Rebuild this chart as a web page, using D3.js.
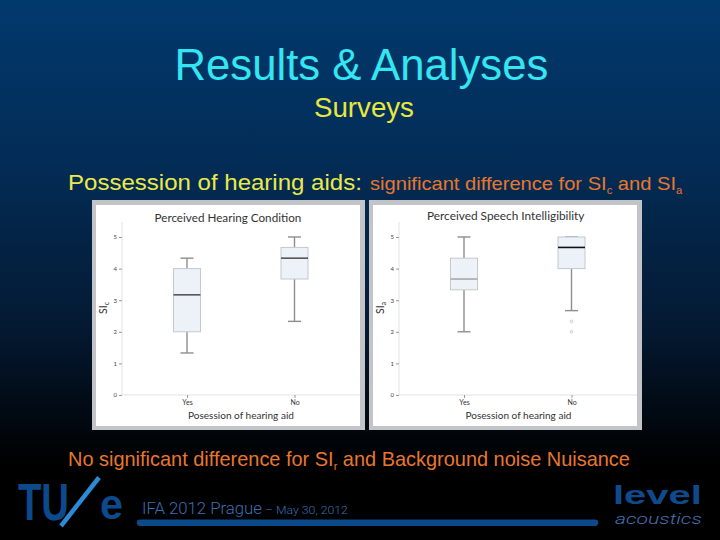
<!DOCTYPE html>
<html><head><meta charset="utf-8">
<script src="https://cdn.jsdelivr.net/npm/d3@7"></script>
<style>html,body{margin:0;padding:0;background:#000;}svg{display:block;}</style>
</head><body>
<script>
// ---------- data ----------
const groups = ["Yes", "No"];
const yTicks = [0, 1, 2, 3, 4, 5];
// box stats: [min, q1, median, q3, max]
const sicYes = [1.33, 2.00, 3.17, 4.00, 4.33];
const sicNo  = [2.33, 3.67, 4.33, 4.67, 5.00];
const siaYes = [2.00, 3.33, 3.67, 4.33, 5.00];
const siaNo  = [2.67, 4.00, 4.67, 5.00, 5.00];
const sicOutliers = [[], []];
const siaOutliers = [[], [2.33, 2.00]];
const chartTitles = ["Perceived Hearing Condition", "Perceived Speech Intelligibility"];
const ySubs = ["c", "a"];
const xTitle = "Posession of hearing aid";

const W = 720, H = 540;
const svg = d3.select("body").append("svg").attr("width", W).attr("height", H);
const defs = svg.append("defs");
const bg = defs.append("linearGradient").attr("id", "bg").attr("x1", 0).attr("y1", 0).attr("x2", 0).attr("y2", 1);
[[0, "#01396d"], [0.3, "#032c56"], [0.6, "#041a33"], [0.86, "#000000"], [1, "#000000"]]
  .forEach(([o, c]) => bg.append("stop").attr("offset", o).attr("stop-color", c));
svg.append("rect").attr("width", W).attr("height", H).attr("fill", "url(#bg)");

// fit helper: scale text horizontally to occupy [x, x+w]
function fit(sel, x, y, w) {
  const bw = sel.node().getBBox().width;
  sel.attr("x", 0).attr("y", 0).attr("text-anchor", "start")
     .attr("transform", `translate(${x},${y}) scale(${w / bw},1)`);
  return sel;
}
const SANS = "'Liberation Sans', Arial, sans-serif";

// ---------- headings ----------
fit(svg.append("text").text("Results & Analyses").attr("font-family", SANS).attr("font-size", 44).attr("fill", "#33e6f2"), 174.5, 80, 374);
fit(svg.append("text").text("Surveys").attr("font-family", SANS).attr("font-size", 27).attr("fill", "#e8e83c"), 314, 117, 100);
fit(svg.append("text").text("Possession of hearing aids:").attr("font-family", SANS).attr("font-size", 22).attr("fill", "#eaea4a"), 68, 190, 294);

const l1 = svg.append("text").attr("font-family", SANS).attr("font-size", 18).attr("fill", "#e8772e");
l1.append("tspan").text("significant difference for SI");
l1.append("tspan").text("c").attr("font-size", 10).attr("dy", 4);
l1.append("tspan").text(" and SI").attr("dy", -4);
l1.append("tspan").text("a").attr("font-size", 10).attr("dy", 4);
fit(l1, 370, 190, 313);

const l2 = svg.append("text").attr("font-family", SANS).attr("font-size", 20).attr("fill", "#e8772e");
l2.append("tspan").text("No significant difference for SI");
l2.append("tspan").text("r").attr("font-size", 11).attr("dy", 4);
l2.append("tspan").text(" and Background noise Nuisance").attr("dy", -4);
fit(l2, 68, 466, 562);

// ---------- panels ----------
const CH = "Lato, 'Open Sans', sans-serif";
const y = d3.scaleLinear().domain([0, 5]).range([395, 237]);
const panels = [
  { ox: 0, stats: [sicYes, sicNo], outl: sicOutliers, medColor: ["#555", "#555"], titleW: 147, titleY: 222, titleC: 228, xtC: 241 },
  { ox: 277, stats: [siaYes, siaNo], outl: siaOutliers, medColor: ["#a8a8a8", "#111"], titleW: 158, titleY: 219.5, titleC: 506, xtC: 518.5 }
];

panels.forEach((p, i) => {
  const g = svg.append("g");
  // frame
  g.append("rect").attr("x", 92 + p.ox).attr("y", 200).attr("width", 273).attr("height", 230).attr("fill", "#c2c4c8");
  g.append("rect").attr("x", 96 + p.ox).attr("y", 205).attr("width", 264).attr("height", 221).attr("fill", "#ffffff");

  const axX = 122 + p.ox;
  const x = d3.scalePoint().domain(groups).range([187 + p.ox, 294.5 + p.ox]);

  // axis lines
  g.append("line").attr("x1", axX).attr("x2", axX).attr("y1", 222).attr("y2", 395).attr("stroke", "#e2e2e2");
  g.append("line").attr("x1", axX).attr("x2", 360 + p.ox).attr("y1", 395).attr("y2", 395).attr("stroke", "#e2e2e2");

  const ya = g.append("g").attr("transform", `translate(${axX},0)`)
    .call(d3.axisLeft(y).tickValues(yTicks).tickSize(3).tickSizeOuter(0).tickPadding(2).tickFormat(d3.format("d")));
  ya.select(".domain").remove();
  ya.selectAll("line").attr("stroke", "#999");
  ya.selectAll("text").attr("font-family", CH).attr("font-size", 6).attr("fill", "#444");

  const xa = g.append("g").attr("transform", `translate(0,395)`)
    .call(d3.axisBottom(x).tickSize(3).tickSizeOuter(0).tickPadding(2));
  xa.select(".domain").remove();
  xa.selectAll("line").attr("stroke", "#999");
  xa.selectAll("text").attr("font-family", CH).attr("font-size", 7).attr("fill", "#333");

  // titles
  const t = g.append("text").text(chartTitles[i]).attr("font-family", CH).attr("font-size", 11).attr("fill", "#333");
  fit(t, p.titleC - p.titleW / 2, p.titleY, p.titleW);
  const xt = g.append("text").text(xTitle).attr("font-family", CH).attr("font-size", 10).attr("fill", "#333");
  fit(xt, p.xtC - 53, 418.5, 106);
  const yl = g.append("text").attr("font-family", CH).attr("font-size", 10.5).attr("fill", "#333")
    .attr("text-anchor", "middle").attr("transform", `translate(${107 + p.ox},308) rotate(-90)`);
  yl.append("tspan").text("SI");
  yl.append("tspan").text(ySubs[i]).attr("font-size", 7).attr("dy", 2);

  // boxes
  const bw = 27, cw = 13;
  groups.forEach((grp, j) => {
    const [mn, q1, md, q3, mx] = p.stats[j];
    const cx = x(grp);
    const wk = g.append("g").attr("stroke", "#8e8e8e").attr("stroke-width", 1.4);
    wk.append("line").attr("x1", cx).attr("x2", cx).attr("y1", y(mx)).attr("y2", y(q3));
    wk.append("line").attr("x1", cx).attr("x2", cx).attr("y1", y(q1)).attr("y2", y(mn));
    wk.append("line").attr("x1", cx - cw / 2).attr("x2", cx + cw / 2).attr("y1", y(mx)).attr("y2", y(mx));
    wk.append("line").attr("x1", cx - cw / 2).attr("x2", cx + cw / 2).attr("y1", y(mn)).attr("y2", y(mn));
    g.append("rect").attr("x", cx - bw / 2).attr("y", y(q3)).attr("width", bw).attr("height", y(q1) - y(q3))
      .attr("fill", "#edf1f8").attr("stroke", "#c4c8cf").attr("stroke-width", 1);
    g.append("line").attr("x1", cx - bw / 2).attr("x2", cx + bw / 2).attr("y1", y(md)).attr("y2", y(md))
      .attr("stroke", p.medColor[j]).attr("stroke-width", 1.6);
    p.outl[j].forEach(v => {
      g.append("circle").attr("cx", cx).attr("cy", y(v)).attr("r", 1.3)
        .attr("fill", "none").attr("stroke", "#bbb").attr("stroke-width", 0.8);
    });
  });
});

// ---------- footer ----------
const DB = "#0c4a8c";
fit(svg.append("text").text("TU").attr("font-family", SANS).attr("font-weight", "bold").attr("font-size", 51).attr("fill", DB), 18, 519.5, 51);
svg.append("line").attr("x1", 61).attr("y1", 526).attr("x2", 99).attr("y2", 477.5).attr("stroke", "#2b8bd6").attr("stroke-width", 4.5);
fit(svg.append("text").text("e").attr("font-family", SANS).attr("font-weight", "bold").attr("font-size", 42).attr("fill", DB), 100, 519, 23);

const FT = "Roboto, 'Liberation Sans', sans-serif";
fit(svg.append("text").text("IFA 2012 Prague").attr("font-family", FT).attr("font-weight", 300).attr("font-size", 16).attr("fill", "#3b6fb5"), 142, 514, 120);
fit(svg.append("text").text("– May 30, 2012").attr("font-family", FT).attr("font-weight", 300).attr("font-size", 11).attr("fill", "#3b6fb5"), 265, 514, 83);
svg.append("line").attr("x1", 140).attr("x2", 595).attr("y1", 522.7).attr("y2", 522.7)
  .attr("stroke", "#0d4a8a").attr("stroke-width", 6.5).attr("stroke-linecap", "round");

fit(svg.append("text").text("level").attr("font-family", SANS).attr("font-weight", "bold").attr("font-size", 26).attr("fill", "#0f4a8c"), 613, 503.5, 89);
fit(svg.append("text").text("acoustics").attr("font-family", FT).attr("font-style", "italic").attr("font-weight", 300).attr("font-size", 14).attr("fill", "#4572b0"), 615, 524, 87);
</script>
</body></html>
